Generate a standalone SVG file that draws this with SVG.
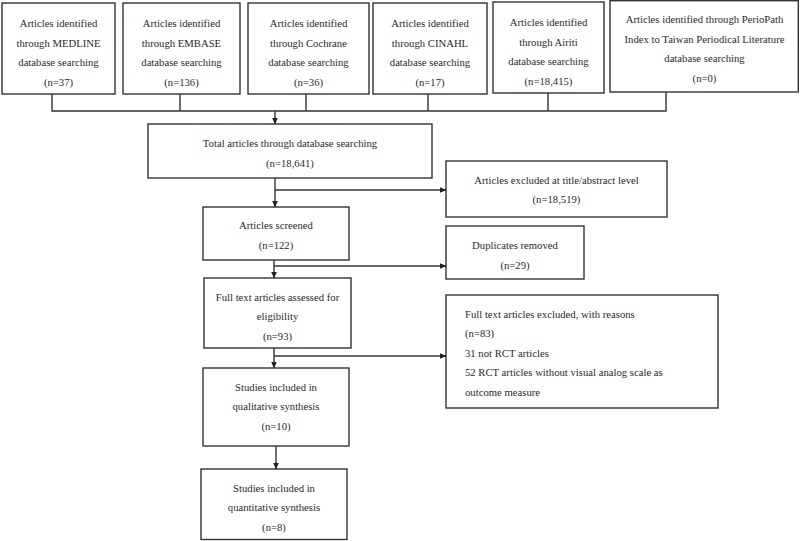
<svg xmlns="http://www.w3.org/2000/svg" width="800" height="541" viewBox="0 0 800 541">
<style>
.box{fill:#fff;stroke:#333;stroke-width:1.4}
text{font-family:"Liberation Serif","Times New Roman",serif;font-size:10.7px;fill:#2a2a2a}
.c{text-anchor:middle}
.ln{fill:none;stroke:#333;stroke-width:1.4}
</style>
<defs>
<marker id="ah" markerWidth="7" markerHeight="6" refX="6.5" refY="3" orient="auto" markerUnits="userSpaceOnUse">
<path d="M0,0 L7,3 L0,6 Z" fill="#222"/>
</marker>
</defs>
<rect width="800" height="541" fill="#fff"/>
<g id="medline">
<rect class="box" x="2" y="3" width="113" height="91"/>
<text class="c" x="58.5" y="27">Articles identified</text>
<text class="c" x="58.5" y="46.5">through MEDLINE</text>
<text class="c" x="58.5" y="66">database searching</text>
<text class="c" x="58.5" y="85.5">(n=37)</text>
</g>
<g id="embase">
<rect class="box" x="123" y="3" width="117" height="91"/>
<text class="c" x="181.5" y="27">Articles identified</text>
<text class="c" x="181.5" y="46.5">through EMBASE</text>
<text class="c" x="181.5" y="66">database searching</text>
<text class="c" x="181.5" y="85.5">(n=136)</text>
</g>
<g id="cochrane">
<rect class="box" x="248" y="3" width="121" height="91"/>
<text class="c" x="308.5" y="27">Articles identified</text>
<text class="c" x="308.5" y="46.5">through Cochrane</text>
<text class="c" x="308.5" y="66">database searching</text>
<text class="c" x="308.5" y="85.5">(n=36)</text>
</g>
<g id="cinahl">
<rect class="box" x="373" y="3" width="114" height="91"/>
<text class="c" x="430" y="27">Articles identified</text>
<text class="c" x="430" y="46.5">through CINAHL</text>
<text class="c" x="430" y="66">database searching</text>
<text class="c" x="430" y="85.5">(n=17)</text>
</g>
<g id="airiti">
<rect class="box" x="493" y="2" width="111" height="91"/>
<text class="c" x="548.5" y="26">Articles identified</text>
<text class="c" x="548.5" y="45.5">through Airiti</text>
<text class="c" x="548.5" y="65">database searching</text>
<text class="c" x="548.5" y="84.5">(n=18,415)</text>
</g>
<g id="periopath">
<rect class="box" x="610" y="0.7" width="188.3" height="91.3"/>
<text class="c" x="704.5" y="23">Articles identified through PerioPath</text>
<text class="c" x="704.5" y="42.5">Index to Taiwan Periodical Literature</text>
<text class="c" x="704.5" y="62">database searching</text>
<text class="c" x="704.5" y="82">(n=0)</text>
</g>
<g id="total">
<rect class="box" x="148" y="124" width="284" height="54"/>
<text class="c" x="290" y="147">Total articles through database searching</text>
<text class="c" x="290" y="166.5">(n=18,641)</text>
</g>
<g id="excluded-title">
<rect class="box" x="446" y="161" width="221" height="56"/>
<text class="c" x="556.5" y="183.5">Articles excluded at title/abstract level</text>
<text class="c" x="556.5" y="203">(n=18,519)</text>
</g>
<g id="screened">
<rect class="box" x="203" y="207" width="146" height="53"/>
<text class="c" x="276" y="228.5">Articles screened</text>
<text class="c" x="276" y="248.5">(n=122)</text>
</g>
<g id="duplicates">
<rect class="box" x="446" y="226" width="138" height="53"/>
<text class="c" x="515" y="248.5">Duplicates removed</text>
<text class="c" x="515" y="268.5">(n=29)</text>
</g>
<g id="fulltext">
<rect class="box" x="204" y="278" width="147" height="70"/>
<text class="c" x="277.5" y="300.5">Full text articles assessed for</text>
<text class="c" x="277.5" y="320">eligibility</text>
<text class="c" x="277.5" y="339.5">(n=93)</text>
</g>
<g id="excluded-fulltext">
<rect class="box" x="446" y="295" width="272" height="113"/>
<text x="465" y="317.5">Full text articles excluded, with reasons</text>
<text x="465" y="337">(n=83)</text>
<text x="465" y="356.5">31 not RCT articles</text>
<text x="465" y="376">52 RCT articles without visual analog scale as</text>
<text x="465" y="395.5">outcome measure</text>
</g>
<g id="qualitative">
<rect class="box" x="203" y="368" width="146" height="78"/>
<text class="c" x="276" y="390.5">Studies included in</text>
<text class="c" x="276" y="410">qualitative synthesis</text>
<text class="c" x="276" y="430">(n=10)</text>
</g>
<g id="quantitative">
<rect class="box" x="201" y="469" width="146" height="70.5"/>
<text class="c" x="274" y="491.5">Studies included in</text>
<text class="c" x="274" y="511">quantitative synthesis</text>
<text class="c" x="274" y="530.5">(n=8)</text>
</g>
<g id="connectors">
<path class="ln" d="M52,94 V111 H666 V92 M180,94 V111 M306,94 V111 M428,94 V111 M548,93 V111"/>
<path class="ln" d="M275,111 V124" marker-end="url(#ah)"/>
<path class="ln" d="M275,178 V207" marker-end="url(#ah)"/>
<path class="ln" d="M275,190 H446" marker-end="url(#ah)"/>
<path class="ln" d="M274,260 V278" marker-end="url(#ah)"/>
<path class="ln" d="M274,266 H446" marker-end="url(#ah)"/>
<path class="ln" d="M274,348 V368" marker-end="url(#ah)"/>
<path class="ln" d="M274,356 H446" marker-end="url(#ah)"/>
<path class="ln" d="M276,446 V469" marker-end="url(#ah)"/>
</g>
</svg>
